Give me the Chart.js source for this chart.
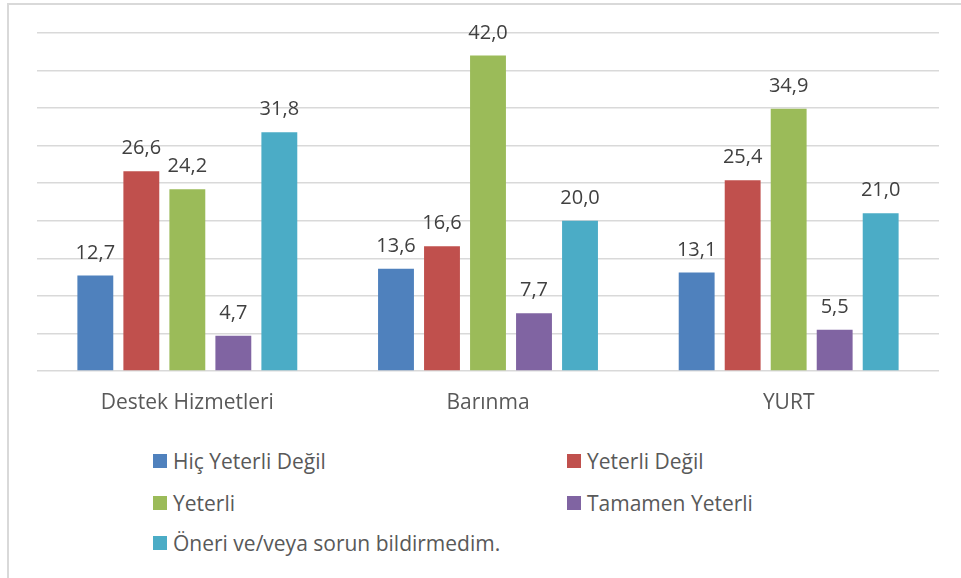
<!DOCTYPE html>
<html lang="tr">
<head>
  <meta charset="UTF-8" />
  <title>Destek / Barınma / YURT</title>
  <script src="https://cdn.jsdelivr.net/npm/chart.js"></script>
  <style>
    html, body { margin: 0; padding: 0; background: #fff; }
    #wrap { position: relative; width: 961px; height: 578px; overflow: hidden; }
    #frame {
      position: absolute; left: 7px; top: 3px; width: 980px; height: 600px;
      border-left: 2px solid #d9d9d9; border-top: 2px solid #d9d9d9;
    }
    #box { position: absolute; left: 0; top: 0; width: 961px; height: 420px; }
    .lg {
      position: absolute; height: 20px; display: flex; align-items: center;
      font-family: 'Open Sans', sans-serif; font-size: 21px; color: #595959; white-space: nowrap;
    }
    .lg i { display: inline-block; width: 14px; height: 14px; margin-right: 6px; }
  </style>
</head>
<body>
<div id="wrap">
  <div id="frame"></div>
  <div id="box"><canvas id="chart"></canvas></div>
  <div id="legend"></div>
</div>

<script>
  const categories = ['Destek Hizmetleri', 'Barınma', 'YURT'];
  const seriesNames = ['Hiç Yeterli Değil', 'Yeterli Değil', 'Yeterli', 'Tamamen Yeterli', 'Öneri ve/veya sorun bildirmedim.'];
  const hicYeterliDegil = [12.7, 13.6, 13.1];
  const yeterliDegil = [26.6, 16.6, 25.4];
  const yeterli = [24.2, 42.0, 34.9];
  const tamamenYeterli = [4.7, 7.7, 5.5];
  const oneriYok = [31.8, 20.0, 21.0];
  const colors = ['#4f81bd', '#c0504d', '#9bbb59', '#8064a2', '#4bacc6'];

  const FONT = "'Open Sans', sans-serif";

  // value labels above each bar, Excel style "12,7"
  const valueLabels = {
    id: 'valueLabels',
    afterDatasetsDraw(chart) {
      const ctx = chart.ctx;
      ctx.save();
      ctx.font = '20px ' + FONT;
      ctx.fillStyle = '#404040';
      ctx.textAlign = 'center';
      ctx.textBaseline = 'alphabetic';
      chart.data.datasets.forEach((ds, i) => {
        chart.getDatasetMeta(i).data.forEach((bar, j) => {
          ctx.fillText(ds.data[j].toFixed(1).replace('.', ','), bar.x, bar.y - 17);
        });
      });
      ctx.restore();
    }
  };

  const allSeries = [hicYeterliDegil, yeterliDegil, yeterli, tamamenYeterli, oneriYok];

  const chart = new Chart(document.getElementById('chart'), {
    type: 'bar',
    data: {
      labels: categories,
      datasets: allSeries.map((d, i) => ({
        label: seriesNames[i],
        data: d,
        backgroundColor: colors[i],
        categoryPercentage: 0.765,
        barPercentage: 0.78
      }))
    },
    options: {
      responsive: true,
      maintainAspectRatio: false,
      animation: false,
      layout: { padding: { left: 37, right: 22, top: 33, bottom: 4 } },
      plugins: { legend: { display: false }, tooltip: { enabled: false } },
      scales: {
        x: {
          grid: { display: false },
          border: { display: false },
          ticks: { color: '#595959', font: { family: FONT, size: 21 }, padding: 11 },
          afterFit(s) { s.height = 45; }
        },
        y: {
          min: 0, max: 45,
          ticks: { display: false, stepSize: 5 },
          grid: { color: '#d9d9d9', lineWidth: 1.5, drawTicks: false },
          border: { display: false },
          afterFit(s) { s.width = 0; }
        }
      }
    },
    plugins: [valueLabels]
  });

  // two-column legend, built from the datasets
  const legendPos = [[153, 451], [567, 451], [153, 493], [567, 493], [153, 533]];
  const legend = document.getElementById('legend');
  chart.data.datasets.forEach((ds, i) => {
    const el = document.createElement('div');
    el.className = 'lg';
    el.style.left = legendPos[i][0] + 'px';
    el.style.top = legendPos[i][1] + 'px';
    el.innerHTML = '<i style="background:' + ds.backgroundColor + '"></i>';
    el.appendChild(document.createTextNode(ds.label));
    legend.appendChild(el);
  });
</script>
</body>
</html>
